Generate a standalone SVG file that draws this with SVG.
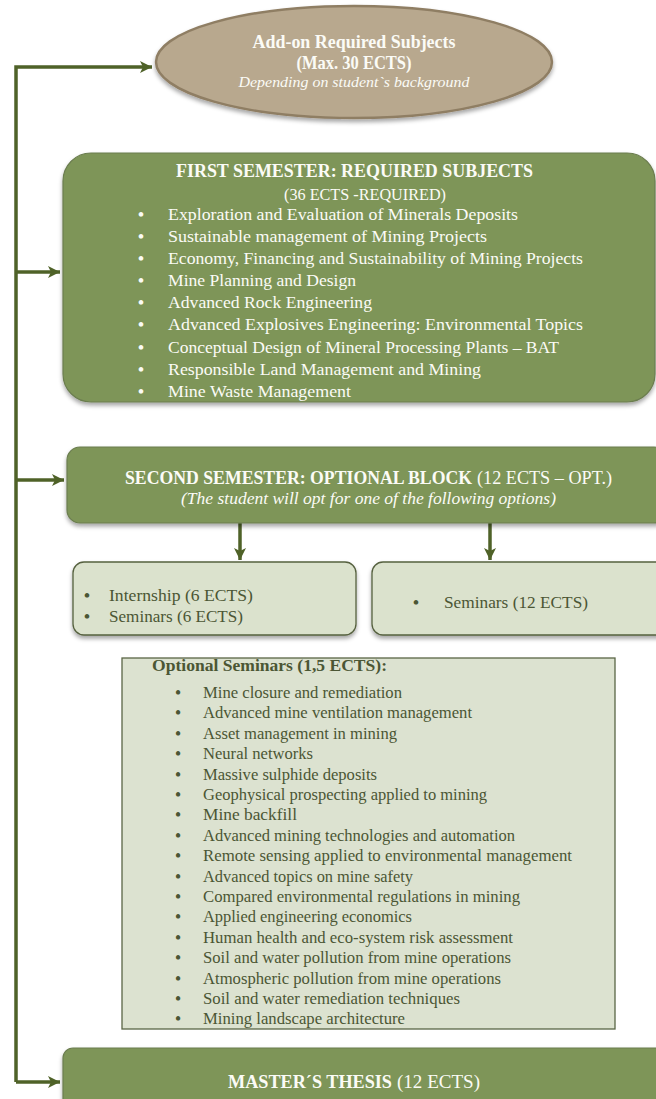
<svg xmlns="http://www.w3.org/2000/svg" width="656" height="1099" viewBox="0 0 656 1099">
<style>
.t{font-family:"Liberation Serif","DejaVu Serif",serif}
.w{fill:#fbfbf6}
.d{fill:#4b5634}
.b{font-weight:bold}
.i{font-style:italic}
.green{fill:#7e9558;stroke:#6b7d4f;stroke-width:1.2}
.light{fill:#dbe2cd;stroke:#56613f;stroke-width:1.3}
.conn{fill:none;stroke:#4f6228;stroke-width:3.5}
</style>
<defs>
<filter id="sh" x="-10%" y="-10%" width="120%" height="130%">
<feDropShadow dx="0" dy="3" stdDeviation="2" flood-color="#000" flood-opacity="0.35"/>
</filter>
<marker id="ah" markerUnits="userSpaceOnUse" markerWidth="14" markerHeight="14" refX="12" refY="7" orient="auto">
<path d="M0,1 L12,7 L0,13 L3,7 Z" fill="#4f6228"/>
</marker>
</defs>

<g id="connectors">
<path class="conn" d="M16,1082 L16,67 L152,67" marker-end="url(#ah)"/>
<path class="conn" d="M16,272 L60,272" marker-end="url(#ah)"/>
<path class="conn" d="M16,480 L64,480" marker-end="url(#ah)"/>
<path class="conn" d="M16,1082 L60,1082" marker-end="url(#ah)"/>
<path class="conn" d="M240,523 L240,560" marker-end="url(#ah)"/>
<path class="conn" d="M490,523 L490,560" marker-end="url(#ah)"/>
</g>

<g id="addon">
<ellipse cx="354" cy="62" rx="198" ry="56" fill="#b8a88e" stroke="#8f7e64" stroke-width="2.5" filter="url(#sh)"/>
<text class="t w b" x="354" y="48" font-size="18" text-anchor="middle" textLength="203" lengthAdjust="spacingAndGlyphs">Add-on Required Subjects</text>
<text class="t w b" x="354" y="69" font-size="18" text-anchor="middle" textLength="115" lengthAdjust="spacingAndGlyphs">(Max. 30 ECTS)</text>
<text class="t w i" x="354" y="87" font-size="14.5" text-anchor="middle" textLength="231" lengthAdjust="spacingAndGlyphs">Depending on student`s background</text>
</g>

<g id="first-semester">
<rect class="green" x="63" y="153" width="592" height="249" rx="28" filter="url(#sh)"/>
<text class="t w b" x="176" y="177" font-size="18.5" textLength="357" lengthAdjust="spacingAndGlyphs">FIRST SEMESTER: REQUIRED SUBJECTS</text>
<text class="t w" x="284" y="200" font-size="17" textLength="162" lengthAdjust="spacingAndGlyphs">(36 ECTS -REQUIRED)</text>
<g class="t w b" font-size="17" text-anchor="middle">
<text x="141" y="220">•</text>
<text x="141" y="242">•</text>
<text x="141" y="264">•</text>
<text x="141" y="286">•</text>
<text x="141" y="308">•</text>
<text x="141" y="330">•</text>
<text x="141" y="352.5">•</text>
<text x="141" y="374.5">•</text>
<text x="141" y="397">•</text>
</g>
<g class="t w" font-size="17">
<text x="168" y="220" textLength="350" lengthAdjust="spacingAndGlyphs">Exploration and Evaluation of Minerals Deposits</text>
<text x="168" y="242" textLength="319" lengthAdjust="spacingAndGlyphs">Sustainable management of Mining Projects</text>
<text x="168" y="264" textLength="415" lengthAdjust="spacingAndGlyphs">Economy, Financing and Sustainability of Mining Projects</text>
<text x="168" y="286" textLength="188" lengthAdjust="spacingAndGlyphs">Mine Planning and Design</text>
<text x="168" y="308" textLength="204" lengthAdjust="spacingAndGlyphs">Advanced Rock Engineering</text>
<text x="168" y="330" textLength="415" lengthAdjust="spacingAndGlyphs">Advanced Explosives Engineering: Environmental Topics</text>
<text x="168" y="352.5" textLength="391" lengthAdjust="spacingAndGlyphs">Conceptual Design of Mineral Processing Plants – BAT</text>
<text x="168" y="374.5" textLength="313" lengthAdjust="spacingAndGlyphs">Responsible Land Management and Mining</text>
<text x="168" y="397" textLength="183" lengthAdjust="spacingAndGlyphs">Mine Waste Management</text>
</g>
</g>

<g id="second-semester">
<rect class="green" x="67" y="447" width="600" height="76" rx="13" filter="url(#sh)"/>
<text class="t w b" x="125" y="484" font-size="18" textLength="347" lengthAdjust="spacingAndGlyphs">SECOND SEMESTER: OPTIONAL BLOCK</text>
<text class="t w" x="477" y="484" font-size="18" textLength="135" lengthAdjust="spacingAndGlyphs">(12 ECTS – OPT.)</text>
<text class="t w i" x="181" y="504" font-size="16" textLength="375" lengthAdjust="spacingAndGlyphs">(The student will opt for one of the following options)</text>
</g>

<g id="option-a">
<rect class="light" x="73" y="562" width="283" height="73" rx="11" filter="url(#sh)"/>
<g class="t d b" font-size="17" text-anchor="middle">
<text x="87" y="601">•</text>
<text x="87" y="622">•</text>
</g>
<g class="t d" font-size="17">
<text x="109" y="601" textLength="144" lengthAdjust="spacingAndGlyphs">Internship (6 ECTS)</text>
<text x="109" y="622" textLength="134" lengthAdjust="spacingAndGlyphs">Seminars (6 ECTS)</text>
</g>
</g>

<g id="option-b">
<rect class="light" x="372" y="562" width="300" height="73" rx="11" filter="url(#sh)"/>
<text class="t d b" x="416" y="608" font-size="17" text-anchor="middle">•</text>
<text class="t d" x="444" y="608" font-size="17" textLength="144" lengthAdjust="spacingAndGlyphs">Seminars (12 ECTS)</text>
</g>

<g id="optional-seminars">
<rect x="122" y="658" width="493" height="371" fill="#dce2d0" stroke="#5a6645" stroke-width="1.3"/>
<text class="t d b" x="152" y="671" font-size="16.5" textLength="235" lengthAdjust="spacingAndGlyphs">Optional Seminars (1,5 ECTS):</text>
<g class="t d b" font-size="16" text-anchor="middle">
<text x="178" y="698">•</text>
<text x="178" y="718.4">•</text>
<text x="178" y="738.8">•</text>
<text x="178" y="759.2">•</text>
<text x="178" y="779.6">•</text>
<text x="178" y="800">•</text>
<text x="178" y="820.4">•</text>
<text x="178" y="840.8">•</text>
<text x="178" y="861.2">•</text>
<text x="178" y="881.6">•</text>
<text x="178" y="902">•</text>
<text x="178" y="922.4">•</text>
<text x="178" y="942.8">•</text>
<text x="178" y="963.2">•</text>
<text x="178" y="983.6">•</text>
<text x="178" y="1004">•</text>
<text x="178" y="1024.4">•</text>
</g>
<g class="t d" font-size="16">
<text x="203" y="698" textLength="199" lengthAdjust="spacingAndGlyphs">Mine closure and remediation</text>
<text x="203" y="718.4" textLength="269" lengthAdjust="spacingAndGlyphs">Advanced mine ventilation management</text>
<text x="203" y="738.8" textLength="194" lengthAdjust="spacingAndGlyphs">Asset management in mining</text>
<text x="203" y="759.2" textLength="110" lengthAdjust="spacingAndGlyphs">Neural networks</text>
<text x="203" y="779.6" textLength="174" lengthAdjust="spacingAndGlyphs">Massive sulphide deposits</text>
<text x="203" y="800" textLength="284" lengthAdjust="spacingAndGlyphs">Geophysical prospecting applied to mining</text>
<text x="203" y="820.4" textLength="94" lengthAdjust="spacingAndGlyphs">Mine backfill</text>
<text x="203" y="840.8" textLength="312" lengthAdjust="spacingAndGlyphs">Advanced mining technologies and automation</text>
<text x="203" y="861.2" textLength="369" lengthAdjust="spacingAndGlyphs">Remote sensing applied to environmental management</text>
<text x="203" y="881.6" textLength="210" lengthAdjust="spacingAndGlyphs">Advanced topics on mine safety</text>
<text x="203" y="902" textLength="317" lengthAdjust="spacingAndGlyphs">Compared environmental regulations in mining</text>
<text x="203" y="922.4" textLength="209" lengthAdjust="spacingAndGlyphs">Applied engineering economics</text>
<text x="203" y="942.8" textLength="310" lengthAdjust="spacingAndGlyphs">Human health and eco-system risk assessment</text>
<text x="203" y="963.2" textLength="308" lengthAdjust="spacingAndGlyphs">Soil and water pollution from mine operations</text>
<text x="203" y="983.6" textLength="298" lengthAdjust="spacingAndGlyphs">Atmospheric pollution from mine operations</text>
<text x="203" y="1004" textLength="257" lengthAdjust="spacingAndGlyphs">Soil and water remediation techniques</text>
<text x="203" y="1024.4" textLength="202" lengthAdjust="spacingAndGlyphs">Mining landscape architecture</text>
</g>
</g>

<g id="masters-thesis">
<rect class="green" x="63" y="1048" width="610" height="70" rx="10" filter="url(#sh)"/>
<text class="t w b" x="228" y="1088" font-size="18" textLength="164" lengthAdjust="spacingAndGlyphs">MASTER´S THESIS</text>
<text class="t w" x="397" y="1088" font-size="18" textLength="83" lengthAdjust="spacingAndGlyphs">(12 ECTS)</text>
</g>
</svg>
